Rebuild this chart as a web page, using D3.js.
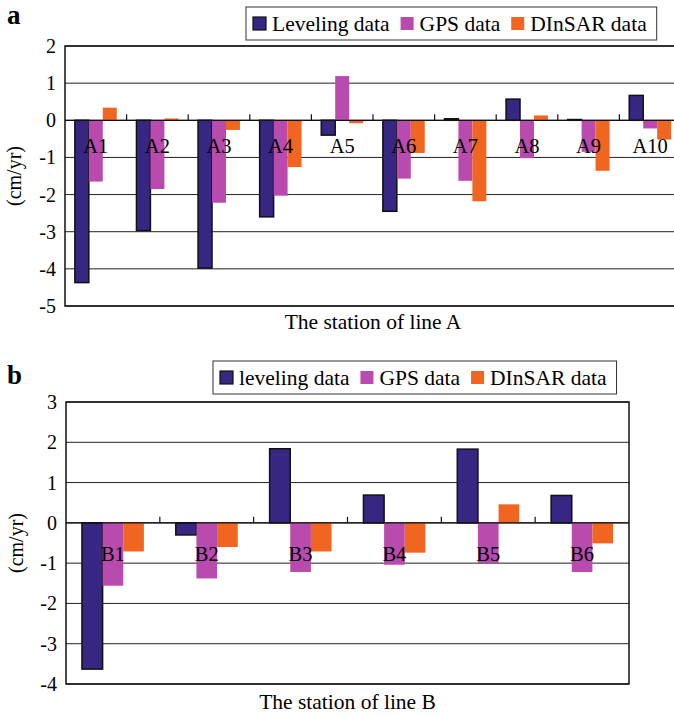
<!DOCTYPE html>
<html>
<head>
<meta charset="utf-8">
<script src="https://cdn.jsdelivr.net/npm/d3@7"></script>
<style>
  body { margin: 0; background: #fff; }
  svg text { font-family: "Liberation Serif", "Times New Roman", Times, serif; }
</style>
</head>
<body>
<svg id="chart" width="674" height="716"></svg>
<script>
// data (cm/yr)
const stationsA = ['A1', 'A2', 'A3', 'A4', 'A5', 'A6', 'A7', 'A8', 'A9', 'A10'];
const levelingA = [-4.37, -2.97, -3.98, -2.6, -0.4, -2.45, 0.04, 0.57, 0.02, 0.67];
const gpsA = [-1.65, -1.85, -2.22, -2.03, 1.19, -1.57, -1.63, -1.02, -0.85, -0.22];
const dinsarA = [0.34, 0.05, -0.26, -1.26, -0.08, -0.88, -2.18, 0.13, -1.36, -0.52];
const ticksA = [2, 1, 0, -1, -2, -3, -4, -5];

const stationsB = ['B1', 'B2', 'B3', 'B4', 'B5', 'B6'];
const levelingB = [-3.63, -0.3, 1.84, 0.69, 1.83, 0.68];
const gpsB = [-1.56, -1.38, -1.22, -1.04, -1.0, -1.22];
const dinsarB = [-0.71, -0.6, -0.71, -0.74, 0.46, -0.51];
const ticksB = [3, 2, 1, 0, -1, -2, -3, -4];

const seriesKeys = ['leveling', 'gps', 'dinsar'];
const colors = { leveling: '#372682', gps: '#b94aae', dinsar: '#f06620' };
const serif = '"Liberation Serif", "Times New Roman", Times, serif';

const svg = d3.select('#chart');

function drawPanel(cfg) {
    const g = svg.append('g').attr('font-family', serif);
    const rows = cfg.stations.map((s, i) => ({
        station: s, leveling: cfg.leveling[i], gps: cfg.gps[i], dinsar: cfg.dinsar[i]
    }));

    const x0 = d3.scaleBand()
        .domain(cfg.stations)
        .range([cfg.left, cfg.right])
        .paddingInner(cfg.pad)
        .paddingOuter(cfg.pad / 2);
    const x1 = d3.scaleBand()
        .domain(seriesKeys)
        .range([0, x0.bandwidth()]);
    const y = d3.scaleLinear()
        .domain(d3.extent(cfg.ticks))
        .range([cfg.bottom, cfg.top]);

    // horizontal gridlines
    g.selectAll('.grid')
        .data(cfg.ticks)
        .enter().append('line')
        .attr('x1', cfg.left).attr('x2', cfg.right)
        .attr('y1', d => y(d)).attr('y2', d => y(d))
        .attr('stroke', '#222')
        .attr('stroke-width', 1);

    // y tick labels
    g.selectAll('.ytick')
        .data(cfg.ticks)
        .enter().append('text')
        .attr('x', cfg.left - 9)
        .attr('y', d => y(d))
        .attr('dy', '0.35em')
        .attr('text-anchor', 'end')
        .attr('font-size', 20)
        .text(d => d < 0 ? '-' + Math.abs(d) : d);

    // bars
    const grp = g.selectAll('.grp')
        .data(rows)
        .enter().append('g')
        .attr('transform', d => `translate(${x0(d.station)},0)`);
    grp.selectAll('rect')
        .data(d => seriesKeys.map(k => ({ key: k, value: d[k] })))
        .enter().append('rect')
        .attr('x', d => x1(d.key))
        .attr('width', x1.bandwidth())
        .attr('y', d => y(Math.max(0, d.value)))
        .attr('height', d => Math.abs(y(d.value) - y(0)))
        .attr('fill', d => colors[d.key])
        .attr('stroke', d => d.key === 'leveling' ? '#111' : 'none')
        .attr('stroke-width', 1.5);

    // zero line with small ticks between stations
    g.append('line')
        .attr('x1', cfg.left).attr('x2', cfg.right)
        .attr('y1', y(0)).attr('y2', y(0))
        .attr('stroke', '#111').attr('stroke-width', 1.2);
    g.selectAll('.xtick')
        .data(cfg.stations.slice(1))
        .enter().append('line')
        .attr('x1', d => x0(d) - x0.step() * x0.paddingInner() / 2)
        .attr('x2', d => x0(d) - x0.step() * x0.paddingInner() / 2)
        .attr('y1', y(0)).attr('y2', y(0) - 6)
        .attr('stroke', '#111').attr('stroke-width', 1.2);

    // station labels sit just under the zero line
    g.selectAll('.cat')
        .data(cfg.stations)
        .enter().append('text')
        .attr('x', d => x0(d) + x0.bandwidth() / 2)
        .attr('y', y(0) + cfg.labelOffset)
        .attr('text-anchor', 'middle')
        .attr('font-size', 20.5)
        .text(d => d);

    // frame
    g.append('rect')
        .attr('x', cfg.left).attr('y', cfg.top)
        .attr('width', cfg.right - cfg.left)
        .attr('height', cfg.bottom - cfg.top)
        .attr('fill', 'none')
        .attr('stroke', '#111')
        .attr('stroke-width', 1.5);

    // axis titles
    g.append('text')
        .attr('transform', `translate(${cfg.yTitleX},${(cfg.top + cfg.bottom) / 2}) rotate(-90)`)
        .attr('text-anchor', 'middle')
        .attr('font-size', 20)
        .text('(cm/yr)');
    g.append('text')
        .attr('x', (cfg.left + cfg.right) / 2)
        .attr('y', cfg.xTitleY)
        .attr('text-anchor', 'middle')
        .attr('font-size', 21.5)
        .text(cfg.xTitle);

    // panel letter
    g.append('text')
        .attr('x', 7).attr('y', cfg.letterY)
        .attr('font-size', 27)
        .attr('font-weight', 'bold')
        .text(cfg.letter);

    // legend
    const lg = g.append('g');
    const box = lg.append('rect')
        .attr('x', cfg.legendX).attr('y', cfg.legendY)
        .attr('height', 33)
        .attr('fill', '#fff')
        .attr('stroke', '#333')
        .attr('stroke-width', 1);
    let cx = cfg.legendX + 7;
    seriesKeys.forEach((k, i) => {
        lg.append('rect')
            .attr('x', cx).attr('y', cfg.legendY + 10)
            .attr('width', 13).attr('height', 13)
            .attr('fill', colors[k])
            .attr('stroke', k === 'leveling' ? '#111' : 'none')
            .attr('stroke-width', 1.2);
        const t = lg.append('text')
            .attr('x', cx + 19)
            .attr('y', cfg.legendY + 24)
            .attr('font-size', 21.5)
            .text(cfg.legendLabels[i]);
        cx += 19 + t.node().getComputedTextLength() + 11;
    });
    box.attr('width', cx - cfg.legendX - 1);
}

drawPanel({
    letter: 'a', letterY: 24,
    stations: stationsA, leveling: levelingA, gps: gpsA, dinsar: dinsarA, ticks: ticksA,
    left: 65, right: 681, top: 46, bottom: 306, pad: 0.32,
    labelOffset: 33, yTitleX: 21, xTitleY: 329,
    xTitle: 'The station of line A',
    legendX: 246, legendY: 7,
    legendLabels: ['Leveling data', 'GPS data', 'DInSAR data']
});

drawPanel({
    letter: 'b', letterY: 384,
    stations: stationsB, leveling: levelingB, gps: gpsB, dinsar: dinsarB, ticks: ticksB,
    left: 66, right: 629, top: 402, bottom: 684, pad: 0.34,
    labelOffset: 38, yTitleX: 23, xTitleY: 709,
    xTitle: 'The station of line B',
    legendX: 213, legendY: 361,
    legendLabels: ['leveling data', 'GPS data', 'DInSAR data']
});
</script>
</body>
</html>
